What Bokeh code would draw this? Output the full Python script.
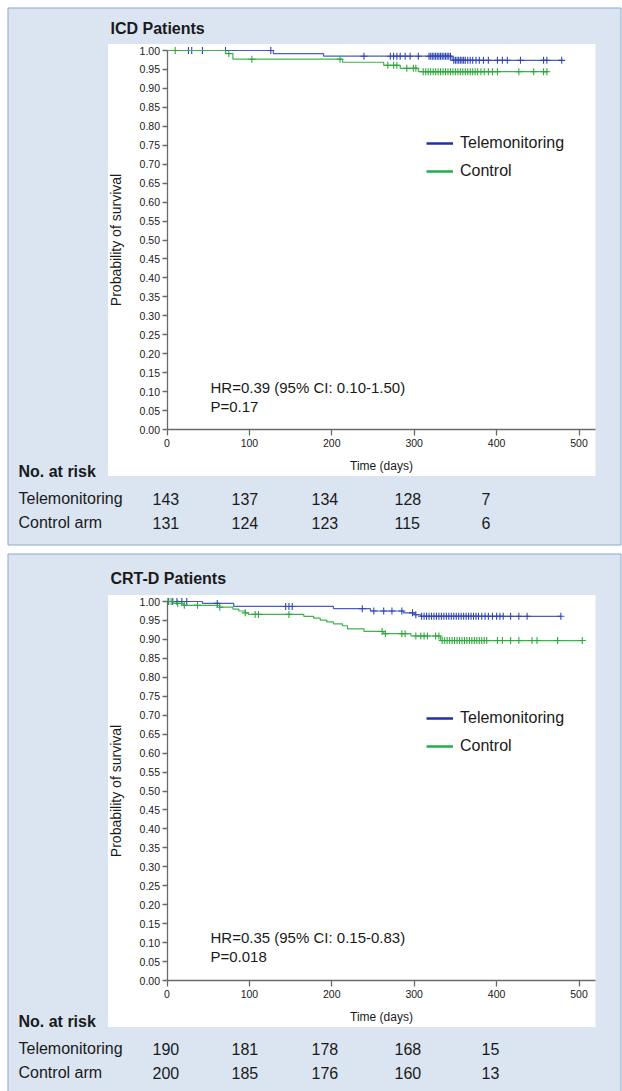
import numpy as np
from bokeh.plotting import figure
from bokeh.layouts import column
from bokeh.models import (Label, Legend, LegendItem, FixedTicker, PrintfTickFormatter,
                          LinearAxis, Range1d)
from bokeh.embed import file_html
from bokeh.resources import INLINE

# ---------------- data ----------------
x_tick_values = [0, 100, 200, 300, 400, 500]
y_tick_values = [0.00, 0.05, 0.10, 0.15, 0.20, 0.25, 0.30, 0.35, 0.40, 0.45, 0.50,
                 0.55, 0.60, 0.65, 0.70, 0.75, 0.80, 0.85, 0.90, 0.95, 1.00]
series_names = ["Telemonitoring", "Control"]
risk_row_names = ["Telemonitoring", "Control arm"]

# ICD patients
icd_tele_times = [0, 129, 190, 346]
icd_tele_surv = [1.0, 0.992, 0.985, 0.974]
icd_tele_end = 480
icd_tele_censor = [26, 30, 43, 71, 126, 239, 271, 275, 279, 283, 289, 295, 305, 318, 320,
                   322, 324, 326, 328, 330, 332, 334, 336, 338, 340, 342, 344, 348, 350,
                   352, 354, 356, 358, 360, 362, 365, 368, 371, 375, 379, 384, 390, 401,
                   407, 413, 429, 457, 461, 479]
icd_ctrl_times = [0, 71, 80, 213, 263, 283, 305]
icd_ctrl_surv = [1.0, 0.992, 0.977, 0.969, 0.961, 0.953, 0.944]
icd_ctrl_end = 463
icd_ctrl_censor = [10, 75, 103, 210, 268, 275, 279, 291, 299, 302, 311, 314, 317, 320, 323,
                   326, 329, 332, 335, 338, 341, 344, 347, 350, 353, 356, 359, 362, 365,
                   368, 371, 374, 377, 381, 385, 390, 395, 401, 427, 445, 457, 461]
icd_tele_risk = [143, 137, 134, 128, 7]
icd_ctrl_risk = [131, 124, 123, 115, 6]
icd_hr_text = ["HR=0.39 (95% CI: 0.10-1.50)", "P=0.17"]

# CRT-D patients
crt_tele_times = [0, 43, 81, 202, 247, 287, 300, 308]
crt_tele_surv = [1.0, 0.995, 0.987, 0.981, 0.975, 0.970, 0.965, 0.961]
crt_tele_end = 478
crt_tele_censor = [2, 7, 12, 18, 24, 61, 144, 148, 152, 237, 251, 263, 273, 285, 298, 302,
                   309, 312, 315, 318, 321, 324, 327, 330, 333, 336, 339, 342, 345, 348,
                   351, 354, 357, 360, 363, 366, 369, 372, 375, 378, 382, 386, 390, 395,
                   400, 404, 408, 417, 427, 437, 478]
crt_ctrl_times = [0, 8, 20, 64, 80, 87, 95, 99, 166, 178, 186, 194, 202, 213, 219, 239,
                  263, 296, 332]
crt_ctrl_surv = [1.0, 0.995, 0.990, 0.985, 0.980, 0.975, 0.970, 0.966, 0.961, 0.956, 0.951,
                 0.946, 0.941, 0.936, 0.928, 0.921, 0.915, 0.909, 0.897]
crt_ctrl_end = 505
crt_ctrl_censor = [1, 5, 13, 21, 37, 64, 95, 107, 111, 148, 261, 265, 285, 289, 302, 308,
                   312, 316, 326, 330, 334, 337, 340, 343, 346, 349, 352, 355, 358, 361,
                   364, 367, 370, 373, 376, 379, 382, 385, 388, 401, 407, 417, 427, 443,
                   449, 474, 504]
crt_tele_risk = [190, 181, 178, 168, 15]
crt_ctrl_risk = [200, 185, 176, 160, 13]
crt_hr_text = ["HR=0.35 (95% CI: 0.15-0.83)", "P=0.018"]

# ---------------- style / layout ----------------
FONT = "Liberation Sans"
BG = "#dbe5f1"
BOX = "#8ea7c8"
TXT = "#1a1a1a"
AXC = "#6a6a6a"
BLUE = "#4a5ec4"
BLUE_M = "#3346b5"
GREEN = "#3db54a"
GREEN_M = "#2ea83c"
LEG_BLUE = "#1f2fa8"
LEG_GREEN = "#1fae4b"

FIG_W = 622
X0_PX = 166.5   # page x of day 0
SX = 0.824      # px per day


def px2x(px):
    return (px - X0_PX) / SX


def step_value(times, surv, t):
    i = np.searchsorted(np.asarray(times), t, side="right") - 1
    return surv[int(i)]


def make_panel(title, T, H, box_top, box_bottom, zero_py, one_py, tele, ctrl, risks,
               hr_text, legend_top, dy):
    def py2y(py):
        return (zero_py - py) / (zero_py - one_py)

    p = figure(width=FIG_W, height=H,
               x_range=Range1d(px2x(0), px2x(FIG_W)),
               y_range=Range1d(py2y(T + H), py2y(T)),
               x_axis_type=None, y_axis_type=None,
               toolbar_location=None, output_backend="svg",
               min_border=0, background_fill_color="white", border_fill_color="white",
               outline_line_color=None)

    # blue panel box and white chart area
    p.quad(left=px2x(7.5), right=px2x(620.5), top=py2y(box_top), bottom=py2y(box_bottom),
           fill_color=BG, line_color=BOX, line_width=1)
    p.quad(left=px2x(107.5), right=px2x(595), top=py2y(one_py - 6.5),
           bottom=py2y(zero_py + 46.5), fill_color="white", line_color=None)

    # axes
    yaxis = LinearAxis(fixed_location=0, bounds=(0, 1),
                       ticker=FixedTicker(ticks=y_tick_values),
                       formatter=PrintfTickFormatter(format="%.2f"),
                       axis_label="Probability of survival")
    xaxis = LinearAxis(fixed_location=0, bounds=(0, px2x(595)),
                       ticker=FixedTicker(ticks=x_tick_values),
                       axis_label="Time (days)")
    for ax in (yaxis, xaxis):
        ax.axis_line_color = AXC
        ax.axis_line_width = 1.3
        ax.major_tick_line_color = AXC
        ax.major_tick_line_width = 1.3
        ax.major_tick_in = 0
        ax.minor_tick_in = 0
        ax.minor_tick_out = 0
        ax.major_label_text_font = FONT
        ax.major_label_text_font_size = "10.5px"
        ax.major_label_text_color = TXT
        ax.axis_label_text_font = FONT
        ax.axis_label_text_font_style = "normal"
        ax.axis_label_text_color = TXT
    yaxis.axis_label_text_font_size = "14px"
    xaxis.axis_label_text_font_size = "12px"
    yaxis.major_tick_out = 5
    yaxis.major_label_standoff = 2
    yaxis.axis_label_standoff = 13
    xaxis.major_tick_out = 6
    xaxis.major_label_standoff = 3
    xaxis.axis_label_standoff = 9
    p.add_layout(yaxis, "left")
    p.add_layout(xaxis, "below")

    # curves
    for (times, surv, end, cens), lc, mc in ((tele, BLUE, BLUE_M), (ctrl, GREEN, GREEN_M)):
        p.step(x=list(times) + [end], y=list(surv) + [surv[-1]], mode="after",
               line_color=lc, line_width=1.2)
        cy = [step_value(times, surv, t) for t in cens]
        p.scatter(x=cens, y=cy, marker="cross", size=7, line_color=mc, line_width=1.1)

    # legend (key lines only, no data drawn)
    r1 = p.line(x=[np.nan, np.nan], y=[np.nan, np.nan], line_color=LEG_BLUE, line_width=2.5)
    r2 = p.line(x=[np.nan, np.nan], y=[np.nan, np.nan], line_color=LEG_GREEN, line_width=2.5)
    leg = Legend(items=[LegendItem(label=series_names[0], renderers=[r1]),
                        LegendItem(label=series_names[1], renderers=[r2])],
                 location=(426, (T + H) - (legend_top + 48)),
                 glyph_width=27, glyph_height=20, label_height=20, label_standoff=7,
                 spacing=8, padding=0, margin=0, border_line_alpha=0,
                 background_fill_alpha=0, label_text_font=FONT,
                 label_text_font_size="16px", label_text_color=TXT)
    p.add_layout(leg)

    # title
    p.add_layout(Label(x=px2x(110), y=py2y(28 + dy), text=title, text_font=FONT,
                       text_font_size="16px", text_font_style="bold", text_color=TXT,
                       text_baseline="middle"))
    # HR text
    for txt, py in zip(hr_text, (387, 406)):
        p.add_layout(Label(x=px2x(210), y=py2y(py + dy), text=txt, text_font=FONT,
                           text_font_size="15px", text_color=TXT, text_baseline="middle"))

    # number at risk table
    p.add_layout(Label(x=px2x(18), y=py2y(471 + dy), text="No. at risk", text_font=FONT,
                       text_font_size="16px", text_font_style="bold", text_color=TXT,
                       text_baseline="middle"))
    col_px = [152, 231, 311, 394, 481]
    for name, row, py in zip(risk_row_names, risks, (498, 522)):
        p.add_layout(Label(x=px2x(18), y=py2y(py + dy), text=name, text_font=FONT,
                           text_font_size="16px", text_color=TXT, text_baseline="middle"))
        for n, cx in zip(row, col_px):
            p.add_layout(Label(x=px2x(cx), y=py2y(py + dy), text=str(n), text_font=FONT,
                               text_font_size="16px", text_color=TXT,
                               text_baseline="middle"))
    return p


p1 = make_panel("ICD Patients", 0, 549, 7.5, 544.5, 429, 50,
                (icd_tele_times, icd_tele_surv, icd_tele_end, icd_tele_censor),
                (icd_ctrl_times, icd_ctrl_surv, icd_ctrl_end, icd_ctrl_censor),
                (icd_tele_risk, icd_ctrl_risk), icd_hr_text, 133, 0)
p2 = make_panel("CRT-D Patients", 549, 542, 553.5, 1100, 980, 601,
                (crt_tele_times, crt_tele_surv, crt_tele_end, crt_tele_censor),
                (crt_ctrl_times, crt_ctrl_surv, crt_ctrl_end, crt_ctrl_censor),
                (crt_tele_risk, crt_ctrl_risk), crt_hr_text, 708, 550)

layout = column(p1, p2, spacing=0)
open("out.html", "w").write(file_html(layout, INLINE))
